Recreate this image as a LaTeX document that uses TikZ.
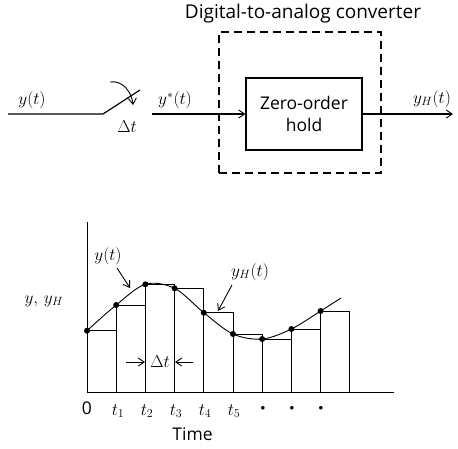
\documentclass[tikz,border=0pt]{standalone}
\usepackage{fontspec}
\setsansfont{Open Sans}
\usetikzlibrary{arrows.meta}
\begin{document}
\begin{tikzpicture}[x=1pt,y=-1pt,line width=1.2pt,
  lbl/.style={font=\fontsize{17.5}{22}\selectfont\sffamily},
  mth/.style={font=\fontsize{18}{20}\selectfont,inner sep=0pt},
  arr/.style={-{Straight Barb[length=6pt,width=8pt,line width=0.9pt]}},
  thinline/.style={line width=0.9pt},
  dot/.style={circle,fill,inner sep=0pt,minimum size=6pt},
  tdot/.style={font=\fontsize{9}{9}\selectfont,inner sep=0pt}]
\useasboundingbox (0,0) rectangle (458,448);

% ---------- block diagram ----------
\node[font=\fontsize{19}{22}\selectfont\sffamily,inner sep=0pt] (title) at (303,14) {Digital-to-analog converter};
\node[draw,dashed,dash pattern=on 8pt off 5pt,minimum width=162pt,minimum height=141pt,inner sep=0pt] (dac) at (300,102.5) {};
\node[draw,lbl,align=center,minimum width=116pt,minimum height=72pt,inner sep=0pt] (zoh) at (304,114) {Zero-order\\hold};

\coordinate (in) at (8,114);
\coordinate (sw1) at (103,114);
\coordinate (sw2) at (140,90);
\coordinate (arcA) at (110,82);
\coordinate (arcB) at (133,105);
\coordinate (ys) at (152,114);
\coordinate (out) at (453,114);

\draw (in) -- (sw1) -- (sw2);
\draw[arr,thinline] (arcA) to[out=10,in=95] (arcB);
\draw[arr] (ys) -- (zoh.west);
\draw[arr] (zoh.east) -- (out);

\node[mth] (lyt) at (32,100) {$y(t)$};
\node[mth] (ldt) at (127,127) {$\Delta t$};
\node[mth] (lys) at (175,100) {$y^{*}(t)$};
\node[mth] (lyh) at (432,99) {$y_H(t)$};

% ---------- graph ----------
\coordinate (ytop) at (87,222);
\coordinate (O) at (87,392);
\coordinate (xend) at (394,392);
\draw[thinline] (ytop) -- (O) -- (xend);

\foreach \k/\v in {0/330.7,1/305,2/284.3,3/288.3,4/312.7,5/334,6/339,7/329,8/311}
  \draw[thinline] ({87+29.2*\k},392) rectangle ({87+29.2*(\k+1)},\v);

\draw[thinline] plot[smooth,tension=0.55] coordinates {(87,330.7) (116.2,305) (145.4,284.3) (174.6,288.3) (203.8,312.7) (233,334) (262.2,339) (291.4,329) (320.6,311) (341,298)};

\foreach \k/\v in {0/330.7,1/305,2/284.3,3/288.3,4/312.7,5/334,6/339,7/329,8/311}
  \node[dot] at ({87+29.2*\k},\v) {};

\node[mth] (lgy) at (108,256) {$y(t)$};
\coordinate (ga1) at (117,268);
\coordinate (ga2) at (130,288);
\draw[arr,thinline] (ga1) -- (ga2);

\node[mth] (lgyh) at (250,272) {$y_H(t)$};
\coordinate (gb1) at (232,285);
\coordinate (gb2) at (218,311);
\draw[arr,thinline] (gb1) -- (gb2);

\node[mth] (lyy) at (44,301) {$y,\,y_H$};

\node[mth] (gdt) at (160,362) {$\Delta t$};
\coordinate (dl1) at (126,362);
\coordinate (dl2) at (145,362);
\coordinate (dr1) at (193,362);
\coordinate (dr2) at (175,362);
\draw[arr,thinline] (dl1) -- (dl2);
\draw[arr,thinline] (dr1) -- (dr2);

\node[lbl,inner sep=0pt] (t0) at (87,408) {0};
\node[mth] (t1) at (118,411) {$t_1$};
\node[mth] (t2) at (147,411) {$t_2$};
\node[mth] (t3) at (176,411) {$t_3$};
\node[mth] (t4) at (205,411) {$t_4$};
\node[mth] (t5) at (234,411) {$t_5$};
\node[tdot] (d1) at (263,408) {$\bullet$};
\node[tdot] (d2) at (292,408) {$\bullet$};
\node[tdot] (d3) at (321,408) {$\bullet$};
\node[lbl,inner sep=0pt] (time) at (192.5,434) {Time};
\end{tikzpicture}
\end{document}
